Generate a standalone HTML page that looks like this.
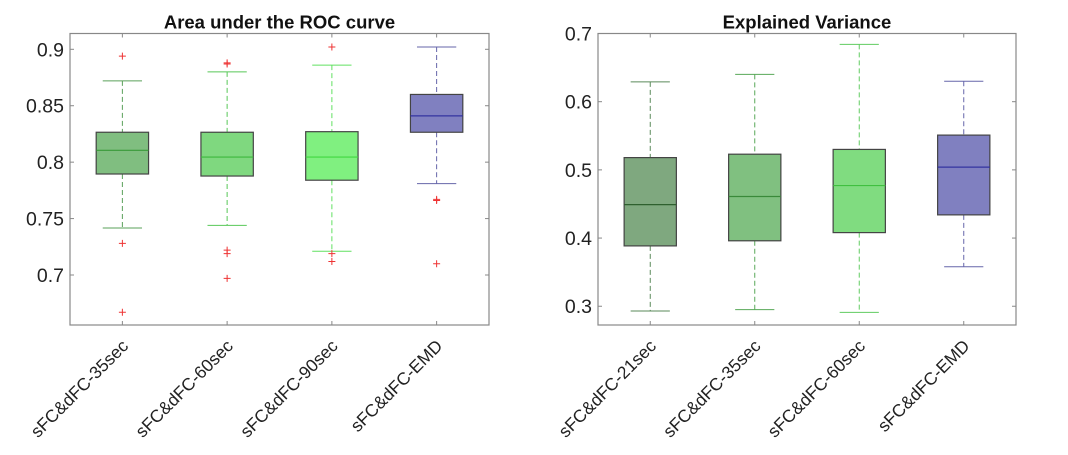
<!DOCTYPE html>
<html><head><meta charset="utf-8"><style>
body{margin:0;background:#fff;width:1068px;height:450px;overflow:hidden}
svg text{font-family:"Liberation Sans",sans-serif}
</style></head><body>
<svg id="chart" width="1068" height="450" xmlns="http://www.w3.org/2000/svg"></svg>
<script>
// Left panel: AUC
const aucCategories = ["sFC&dFC-35sec","sFC&dFC-60sec","sFC&dFC-90sec","sFC&dFC-EMD"];
const aucQ1 = [0.7895,0.7877,0.784,0.8265];
const aucMedian = [0.8105,0.8045,0.8045,0.841];
const aucQ3 = [0.8265,0.8265,0.827,0.860];
const aucWhiskLow = [0.7416,0.744,0.721,0.781];
const aucWhiskHigh = [0.872,0.880,0.886,0.902];
const aucOutliers = [[0.894,0.728,0.667],[0.888,0.887,0.722,0.719,0.697],[0.902,0.719,0.712],[0.767,0.766,0.710]];
const aucTicks = [0.7,0.75,0.8,0.85,0.9];
const aucTickLabels = ["0.7","0.75","0.8","0.85","0.9"];
// Right panel: Explained variance
const evCategories = ["sFC&dFC-21sec","sFC&dFC-35sec","sFC&dFC-60sec","sFC&dFC-EMD"];
const evQ1 = [0.3885,0.396,0.408,0.434];
const evMedian = [0.449,0.461,0.477,0.504];
const evQ3 = [0.518,0.523,0.530,0.551];
const evWhiskLow = [0.293,0.295,0.291,0.358];
const evWhiskHigh = [0.629,0.640,0.684,0.630];
const evOutliers = [[],[],[],[]];
const evTicks = [0.3,0.4,0.5,0.6,0.7];
const evTickLabels = ["0.3","0.4","0.5","0.6","0.7"];

const NS="http://www.w3.org/2000/svg";
const svg=document.getElementById('chart');
function mk(tag,attrs,parent){const e=document.createElementNS(NS,tag);for(const k in attrs)e.setAttribute(k,attrs[k]);(parent||svg).appendChild(e);return e;}

function panel(o){
  const g=mk('g',{});
  
  
  const x=i=>o.x0+(i+0.5)/4*(o.x1-o.x0);
  const y=v=>o.y1-(v-o.ymin)/(o.ymax-o.ymin)*(o.y1-o.y0);
  const hw=0.25/4*(o.x1-o.x0);
  const ax=mk('rect',{x:o.x0,y:o.y0,width:o.x1-o.x0,height:o.y1-o.y0,fill:'none',stroke:'#888','stroke-width':1.2},g);
  
  
  const t=mk('text',{x:(o.x0+o.x1)/2,y:o.y0-5,'text-anchor':'middle','font-size':18.5,'font-weight':'bold',fill:'#111'},g);
  t.textContent=o.title;
  
  
  o.ticks.forEach((v,i)=>{
    mk('line',{x1:o.x0,x2:o.x0+4,y1:y(v),y2:y(v),stroke:'#888'},g);
    mk('line',{x1:o.x1,x2:o.x1-4,y1:y(v),y2:y(v),stroke:'#888'},g);
    const l=mk('text',{x:o.x0-6,y:y(v)+7,'text-anchor':'end','font-size':19.5,fill:'#222'},g);
    l.textContent=o.tickLabels[i];
    
    
  });
  o.cats.forEach((c,i)=>{
    const cx=x(i);
    mk('line',{x1:cx,x2:cx,y1:o.y1,y2:o.y1-4,stroke:'#888'},g);
    mk('line',{x1:cx,x2:cx,y1:o.y0,y2:o.y0+4,stroke:'#888'},g);
    const col=o.colors[i], wc=o.wcolors[i];
    mk('line',{x1:cx,x2:cx,y1:y(o.wh[i]),y2:y(o.q3[i]),stroke:wc,'stroke-dasharray':'5,3'},g);
    mk('line',{x1:cx,x2:cx,y1:y(o.q1[i]),y2:y(o.wl[i]),stroke:wc,'stroke-dasharray':'5,3'},g);
    mk('line',{x1:cx-hw*0.75,x2:cx+hw*0.75,y1:y(o.wh[i]),y2:y(o.wh[i]),stroke:wc},g);
    mk('line',{x1:cx-hw*0.75,x2:cx+hw*0.75,y1:y(o.wl[i]),y2:y(o.wl[i]),stroke:wc},g);
    const b=mk('rect',{x:cx-hw,y:y(o.q3[i]),width:2*hw,height:y(o.q1[i])-y(o.q3[i]),fill:col,stroke:'#444','stroke-width':1.2},g);
    
    
    mk('line',{x1:cx-hw,x2:cx+hw,y1:y(o.med[i]),y2:y(o.med[i]),stroke:o.mcolors[i],'stroke-width':1.2},g);
    o.out[i].forEach(v=>{
      mk('path',{d:`M${cx-3.5},${y(v)}h7M${cx},${y(v)-3.5}v7`,stroke:'#e33','stroke-width':1},g);
    });
    const l=mk('text',{x:cx+7,y:o.y1+22,'text-anchor':'end','font-size':17.5,fill:'#222',transform:`rotate(-45 ${cx+7} ${o.y1+22})`},g);
    l.textContent=c;
    
    
  });
}
panel({name:'auc-panel',title:'Area under the ROC curve',x0:70,x1:489,y0:33.5,y1:325,ymin:0.6557,ymax:0.914,
  ticks:aucTicks,tickLabels:aucTickLabels,cats:aucCategories,q1:aucQ1,med:aucMedian,q3:aucQ3,wl:aucWhiskLow,wh:aucWhiskHigh,out:aucOutliers,
  colors:['#80be80','#7fd87f','#80f080','#8080c0'],wcolors:['#5aa05a','#58c858','#60e060','#6666aa'],mcolors:['#3a9a3a','#3cb83c','#40d840','#3333a0']});
panel({name:'ev-panel',title:'Explained Variance',x0:598,x1:1016,y0:33.5,y1:325,ymin:0.2725,ymax:0.7,
  ticks:evTicks,tickLabels:evTickLabels,cats:evCategories,q1:evQ1,med:evMedian,q3:evQ3,wl:evWhiskLow,wh:evWhiskHigh,out:evOutliers,
  colors:['#7fa87f','#80c080','#80dc80','#8080c0'],wcolors:['#5a8a5a','#58a858','#60cc60','#6666aa'],mcolors:['#2f602f','#3a8a3a','#40c040','#3333a0']});
</script>
</body></html>
